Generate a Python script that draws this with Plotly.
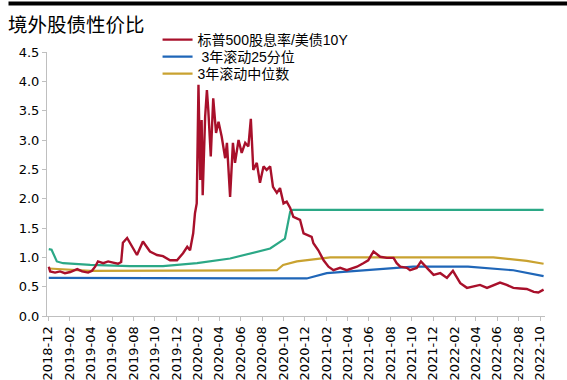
import plotly.graph_objects as go

# ---- data ----
red_dates = ["2018-12-03","2018-12-07","2018-12-21","2019-01-04","2019-01-18","2019-02-02","2019-02-22","2019-03-08",
             "2019-03-25","2019-04-05","2019-04-14","2019-04-22","2019-05-07","2019-05-21","2019-06-04","2019-06-18",
             "2019-06-27","2019-07-02","2019-07-14","2019-07-25","2019-08-11","2019-08-28","2019-09-17","2019-10-07",
             "2019-10-24","2019-11-13","2019-12-03","2019-12-20","2020-01-01","2020-01-09","2020-01-18","2020-01-23",
             "2020-01-28","2020-02-02","2020-02-07","2020-02-11","2020-02-14","2020-02-21","2020-02-26","2020-03-01",
             "2020-03-08","2020-03-15","2020-03-23","2020-03-30","2020-04-08","2020-04-18","2020-04-23","2020-05-02",
             "2020-05-10","2020-05-16","2020-05-26","2020-06-04","2020-06-14","2020-06-23","2020-06-30","2020-07-07",
             "2020-07-17","2020-07-26","2020-08-05","2020-08-14","2020-08-24","2020-09-01","2020-09-12","2020-09-21",
             "2020-10-01","2020-10-10","2020-10-20","2020-10-29","2020-11-17","2020-11-27","2020-12-11","2020-12-20",
             "2020-12-25","2021-01-08","2021-01-23","2021-02-06","2021-02-20","2021-03-11","2021-03-30","2021-04-28",
             "2021-05-16","2021-05-30","2021-06-14","2021-07-03","2021-07-22","2021-08-10","2021-08-19","2021-08-29",
             "2021-09-17","2021-09-26","2021-10-15","2021-10-27","2021-11-13","2021-12-02","2021-12-21","2022-01-09",
             "2022-01-26","2022-02-06","2022-02-16","2022-03-07","2022-03-25","2022-04-13","2022-05-03","2022-05-21",
             "2022-06-09","2022-06-28","2022-07-17","2022-08-05","2022-08-24","2022-09-13","2022-09-26","2022-10-11"]
red_values = [0.84,0.76,0.74,0.76,0.73,0.75,0.80,0.76,
              0.74,0.77,0.84,0.93,0.90,0.93,0.91,0.89,
              0.92,1.25,1.33,1.22,1.04,1.27,1.10,1.04,
              1.02,0.95,0.95,1.07,1.18,1.12,1.41,1.75,
              1.92,3.94,2.32,3.34,2.06,3.40,3.85,3.51,
              2.72,3.71,3.12,3.31,3.06,2.69,2.95,2.03,
              2.95,2.61,3.00,2.78,2.95,2.89,3.36,2.49,
              2.61,2.27,2.55,2.49,2.55,2.20,2.10,2.18,
              1.92,1.95,1.84,1.69,1.64,1.41,1.38,1.35,
              1.24,1.12,0.95,0.84,0.78,0.82,0.78,0.84,
              0.90,0.95,1.10,1.01,0.99,0.99,0.90,0.84,
              0.82,0.78,0.82,0.93,0.82,0.70,0.73,0.65,
              0.77,0.65,0.56,0.48,0.50,0.53,0.48,0.53,
              0.57,0.53,0.48,0.47,0.46,0.41,0.40,0.45]

green_dates = ["2018-12-03","2018-12-11","2018-12-26","2019-01-13","2019-03-31","2019-07-22","2019-10-24",
               "2020-01-29","2020-05-02","2020-08-24","2020-10-05","2020-10-20","2020-10-28","2022-10-11"]
green_values = [1.14,1.13,0.93,0.90,0.87,0.85,0.85,0.90,0.98,1.15,1.32,1.78,1.81,1.81]

gold_dates = ["2018-12-03","2019-03-31","2020-09-12","2020-09-30","2020-11-08","2021-01-22","2021-02-11",
              "2022-05-21","2022-07-17","2022-08-24","2022-10-11"]
gold_values = [0.81,0.77,0.78,0.87,0.93,0.99,1.00,1.00,0.96,0.94,0.89]

blue_dates = ["2018-12-03","2020-12-06","2021-02-01","2021-05-15","2021-10-05","2022-03-10","2022-07-17","2022-10-11"]
blue_values = [0.65,0.64,0.73,0.78,0.84,0.84,0.78,0.68]

names = ["标普500股息率/美债10Y", "\u00a03年滚动25分位", "3年滚动中位数", "3年滚动75分位"]
title_text = "境外股债性价比"

RED, BLUE, GOLD, GREEN = "#A8102B", "#1F66B8", "#C9A230", "#2BA886"
TICK_FONT = dict(size=13, family="DejaVu Sans", color="#000000")
LEG_FONT = dict(family="Liberation Sans, Noto Sans CJK SC", size=14, color="#000000")

fig = go.Figure()
fig.add_trace(go.Scatter(x=green_dates, y=green_values, mode="lines", name=names[3],
                         line=dict(color=GREEN, width=2.2), showlegend=False))
fig.add_trace(go.Scatter(x=blue_dates, y=blue_values, mode="lines", name=names[1],
                         line=dict(color=BLUE, width=2.2), legend="legend2"))
fig.add_trace(go.Scatter(x=gold_dates, y=gold_values, mode="lines", name=names[2],
                         line=dict(color=GOLD, width=2.2), legend="legend3"))
fig.add_trace(go.Scatter(x=red_dates, y=red_values, mode="lines", name=names[0],
                         line=dict(color=RED, width=2.4), legend="legend"))

leg_common = dict(x=0.222, xanchor="left", yanchor="middle", bgcolor="rgba(0,0,0,0)",
                  font=LEG_FONT, itemwidth=30, borderwidth=0)
fig.update_layout(
    width=567, height=380,
    margin=dict(l=47, r=22, t=52, b=64, autoexpand=False),
    paper_bgcolor="white", plot_bgcolor="white",
    font=dict(family="Liberation Sans, Noto Sans CJK SC", size=12, color="#000000"),
    title=dict(text=title_text, xref="container", yref="container", x=8/567, xanchor="left",
               y=1-25/380, yanchor="middle",
               font=dict(family="Noto Sans CJK SC", size=19.5, color="#000000")),
    legend=dict(y=(316-40)/264, **leg_common),
    legend2=dict(y=(316-57)/264, **leg_common),
    legend3=dict(y=(316-74)/264, **leg_common),
    showlegend=True,
)
fig.update_xaxes(
    type="date", range=["2018-11-28", "2022-10-15"],
    tick0="2018-12-01", dtick="M2", tickformat="%Y-%m", tickangle=-90,
    showgrid=False, showline=True, linecolor="#BFBFBF", linewidth=1,
    ticks="outside", ticklen=4, tickcolor="#BFBFBF",
    tickfont=TICK_FONT, zeroline=False, automargin=False,
)
fig.update_yaxes(
    range=[0, 4.5], dtick=0.5, tickformat=".1f",
    showgrid=False, showline=True, linecolor="#BFBFBF", linewidth=1,
    ticks="outside", ticklen=4, tickcolor="#BFBFBF",
    tickfont=TICK_FONT, zeroline=False, automargin=False,
)
# decorative top rule of the report frame
fig.add_annotation(text="", xref="paper", yref="paper", x=-39/498, xanchor="left",
                   y=1+48/264, yanchor="middle", width=559, height=3, borderpad=0,
                   bgcolor="#000000", showarrow=False, font=dict(size=1))

fig.write_html("out.html", config={"displayModeBar": False},
               post_script="document.body.style.margin='0';document.body.style.overflow='hidden';")
